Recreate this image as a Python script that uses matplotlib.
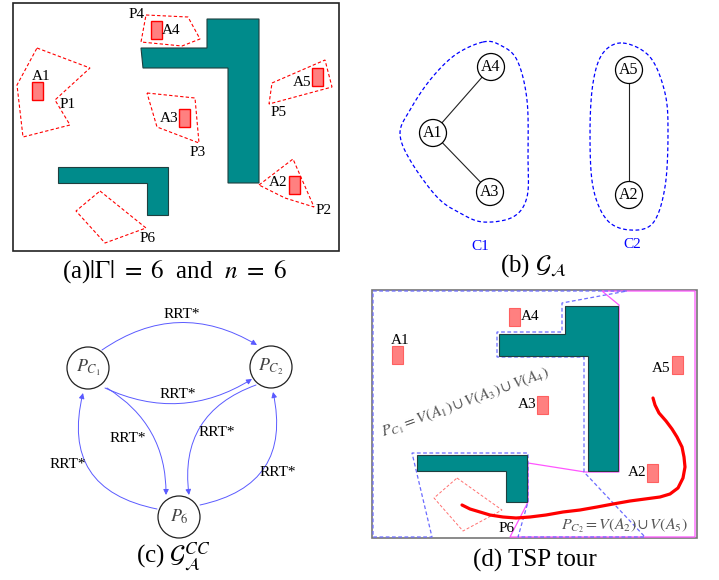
import matplotlib
matplotlib.use('Agg')
import matplotlib.pyplot as plt
import numpy as np
from matplotlib.patches import Polygon, Rectangle, Circle, FancyArrowPatch

plt.rcParams['font.family'] = ['Liberation Serif', 'DejaVu Serif']
plt.rcParams['mathtext.fontset'] = 'stix'

TEAL = '#008b8b'
SALMON = '#ff8080'

# ---- panel (a): environment with obstacles and polygons ----
obst_a_big = [(207, 19), (259, 19), (259, 183), (228, 183), (228, 68), (143, 68), (141, 48), (207, 48)]
obst_a_small = [(58, 167), (168, 167), (168, 215), (147, 215), (147, 183), (58, 183)]
poly_names = ['P1', 'P2', 'P3', 'P4', 'P5', 'P6']
poly_a = [
    [(37, 48), (90, 68), (55, 100), (70, 125), (23, 137), (17, 85)],
    [(259, 185), (293, 159), (314, 207), (285, 198)],
    [(147, 93), (195, 98), (199, 143), (157, 127)],
    [(146, 15), (188, 17), (200, 39), (182, 46), (141, 42)],
    [(272, 83), (325, 60), (332, 87), (269, 104)],
    [(100, 191), (146, 228), (105, 243), (76, 211)],
]
poly_label_a = [(68, 104), (324, 211), (198, 152), (137, 15), (279, 112), (148, 239)]
area_names = ['A1', 'A2', 'A3', 'A4', 'A5']
area_a = [(32, 82), (289, 176), (179, 109), (151, 21), (312, 68)]
area_label_a = [(41, 76), (278, 183), (169, 118), (171, 30), (302, 82)]
area_size = (11, 18)

# ---- panel (b): graph of areas ----
node_b = {'A1': (433, 133), 'A3': (490, 192), 'A4': (491, 67), 'A2': (629, 195), 'A5': (629, 70)}
edges_b = [('A1', 'A4'), ('A1', 'A3'), ('A5', 'A2')]
blob_c1 = [(483, 42), (500, 45), (517, 60), (527, 100), (528, 157), (527, 197), (513, 217),
           (483, 222), (460, 213), (437, 197), (410, 160), (400, 133), (410, 110), (430, 80),
           (455, 55)]
blob_c2 = [(623, 43), (650, 57), (665, 93), (668, 133), (665, 187), (653, 223), (630, 230),
           (607, 220), (593, 187), (590, 133), (593, 83), (603, 53)]

# ---- panel (c): connected-component graph ----
node_c = {'$P_{C_1}$': (88, 368), '$P_{C_2}$': (271, 367), '$P_6$': (179, 517)}
arc_start = [(102, 350), (105, 388), (107, 388), (256, 385), (157, 509), (200, 505)]
arc_end = [(257, 345), (252, 379), (166, 495), (189, 495), (83, 393), (273, 392)]
arc_rad = [-0.32, 0.27, -0.28, 0.4, -0.52, 0.5]
arc_label = [(182, 315), (178, 395), (128, 438), (217, 432), (68, 465), (278, 472)]

# ---- panel (d): TSP tour ----
obst_d_big = [(565, 306), (618, 306), (618, 471), (588, 471), (588, 356), (499, 356), (499, 334), (565, 334)]
obst_d_small = [(417, 455), (527, 455), (527, 502), (506, 502), (506, 471), (417, 471)]
area_d = [(392, 346), (647, 464), (537, 396), (509, 308), (672, 356)]
area_label_d = [(400, 340), (637, 472), (527, 405), (530, 317), (661, 369)]
region_pc1 = [(373, 291), (627, 291), (562, 303), (562, 332), (497, 332), (497, 357), (584, 357),
              (584, 472), (645, 537), (518, 537), (528, 502), (528, 453), (412, 453), (432, 537),
              (373, 537)]
region_pc2 = [(602, 291), (695, 291), (695, 537), (510, 537), (528, 502), (528, 463), (585, 472),
              (619, 472), (619, 305)]
poly_p6_d = [(457, 478), (502, 510), (463, 531), (434, 498)]
tour_x = [653, 655, 659, 666, 672, 677, 682, 684, 685, 683, 678, 670, 660, 645, 630, 613, 597,
          580, 563, 546, 530, 516, 503, 490, 480, 470, 462]
tour_y = [398, 405, 413, 421, 429, 437, 447, 457, 467, 478, 488, 494, 497, 499, 501, 504, 507,
          510, 512, 515, 517, 518, 517, 515, 512, 509, 505]


def smooth_closed(pts, n=16):
    p = np.asarray(pts, float)
    k = len(p)
    t = np.linspace(0, 1, n, endpoint=False)[:, None]
    out = []
    for i in range(k):
        p0, p1, p2, p3 = p[i - 1], p[i], p[(i + 1) % k], p[(i + 2) % k]
        out.append(0.5 * (2 * p1 + (-p0 + p2) * t + (2 * p0 - 5 * p1 + 4 * p2 - p3) * t ** 2
                          + (-p0 + 3 * p1 - 3 * p2 + p3) * t ** 3))
    out = np.vstack(out)
    return np.vstack([out, out[:1]])


fig = plt.figure(figsize=(7.19, 5.8), dpi=100)
ax = fig.add_axes([0, 0, 1, 1])
ax.set_xlim(0, 719)
ax.set_ylim(580, 0)
ax.axis('off')

# panel (a)
ax.add_patch(Rectangle((13, 3), 326, 248, fill=False, ec='#222222', lw=1.2))
for ob in (obst_a_big, obst_a_small):
    ax.add_patch(Polygon(ob, closed=True, fc=TEAL, ec='#1f3f3f', lw=0.8))
for pts, name, lab in zip(poly_a, poly_names, poly_label_a):
    ax.add_patch(Polygon(pts, closed=True, fill=False, ec='red', lw=0.8, ls=(0, (3, 2))))
    ax.text(lab[0], lab[1], name, ha='center', va='center', fontsize=11)
for xy, name, lab in zip(area_a, area_names, area_label_a):
    ax.add_patch(Rectangle(xy, area_size[0], area_size[1], fc=SALMON, ec='red', lw=1))
    ax.text(lab[0], lab[1], name, ha='center', va='center', fontsize=11)
ax.text(175, 278, r'(a)$|\Gamma|\ =\ 6$  and  $n\ =\ 6$', ha='center', va='baseline', fontsize=18)

# panel (b)
for blob in (blob_c1, blob_c2):
    s = smooth_closed(blob)
    ax.plot(s[:, 0], s[:, 1], color='blue', lw=0.9, ls=(0, (3, 2)))
for a, b in edges_b:
    ax.plot([node_b[a][0], node_b[b][0]], [node_b[a][1], node_b[b][1]], color='#222222', lw=0.8)
for name, (x, y) in node_b.items():
    ax.add_patch(Circle((x, y), 13.5, fc='white', ec='black', lw=0.9, zorder=3))
    ax.text(x, y, name, ha='center', va='center', fontsize=11.5, zorder=4)
ax.text(480, 246, 'C1', color='blue', ha='center', va='center', fontsize=11)
ax.text(632, 244, 'C2', color='blue', ha='center', va='center', fontsize=11)
ax.text(533, 272, r'(b) $\mathcal{G}_\mathcal{A}$', ha='center', va='baseline', fontsize=18)

# panel (c)
for a, b, r in zip(arc_start, arc_end, arc_rad):
    ax.add_patch(FancyArrowPatch(a, b, connectionstyle=f'arc3,rad={r}', arrowstyle='-|>',
                                 mutation_scale=8, color='#5a5aff', lw=0.7,
                                 shrinkA=0, shrinkB=0))
for x, y in arc_label:
    ax.text(x, y, 'RRT*', ha='center', va='center', fontsize=11)
for name, (x, y) in node_c.items():
    ax.add_patch(Circle((x, y), 21, fc='white', ec='#222222', lw=0.9, zorder=3))
    ax.text(x, y, name, ha='center', va='center', fontsize=13, color='#444444', zorder=4)
ax.text(173, 563, r'(c) $\mathcal{G}_\mathcal{A}^{CC}$', ha='center', va='baseline', fontsize=18)

# panel (d)
ax.add_patch(Rectangle((372, 290), 325, 248, fill=False, ec='#777777', lw=1.2))
ax.add_patch(Polygon(region_pc2, closed=True, fill=False, ec='#ff55ff', lw=0.9))
ax.add_patch(Polygon(region_pc1, closed=True, fill=False, ec='#6b6bff', lw=0.9, ls=(0, (3, 2))))
for ob in (obst_d_big, obst_d_small):
    ax.add_patch(Polygon(ob, closed=True, fc=TEAL, ec='#1f3f3f', lw=0.8))
ax.add_patch(Polygon(poly_p6_d, closed=True, fill=False, ec='#ff7070', lw=0.7, ls=(0, (3, 2))))
for xy, name, lab in zip(area_d, area_names, area_label_d):
    ax.add_patch(Rectangle(xy, area_size[0], area_size[1], fc=SALMON, ec='#ff6060', lw=0.8))
    ax.text(lab[0], lab[1], name, ha='center', va='center', fontsize=11)
ax.text(507, 528, 'P6', ha='center', va='center', fontsize=11)
ax.plot(tour_x, tour_y, color='red', lw=2.3, solid_capstyle='round', solid_joinstyle='round')
ax.text(465, 403, r'$P_{C_1} = V(A_1) \cup V(A_3) \cup V(A_4)$', ha='center', va='center',
        fontsize=11.5, color='#555555', rotation=20, rotation_mode='anchor')
ax.text(624, 526, r'$P_{C_2} = V(A_2) \cup V(A_5)$', ha='center', va='center',
        fontsize=11.5, color='#555555')
ax.text(535, 567, '(d) TSP tour', ha='center', va='baseline', fontsize=18)

fig.savefig('out.png', dpi=100)
